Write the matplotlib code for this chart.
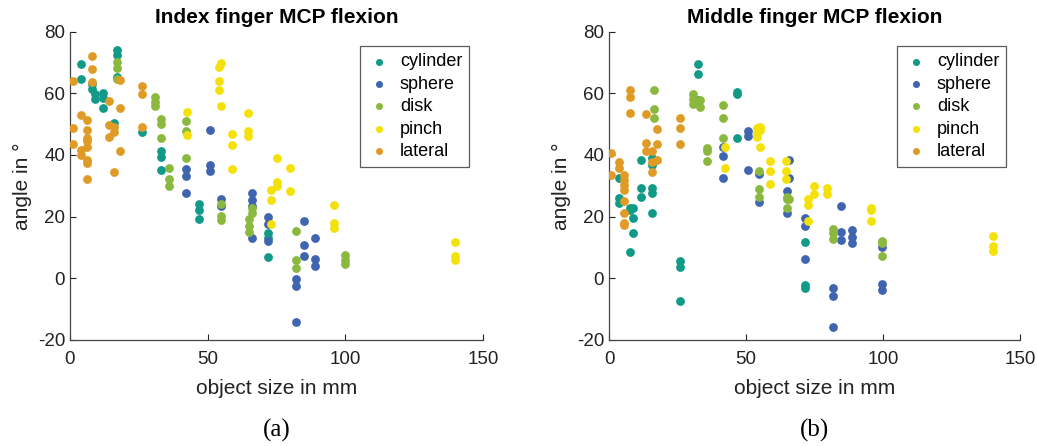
import matplotlib
matplotlib.use("Agg")
import matplotlib.pyplot as plt

plt.rcParams['font.family'] = ['Liberation Sans', 'DejaVu Sans']
plt.rcParams['axes.unicode_minus'] = False

grasps = ["cylinder", "sphere", "disk", "pinch", "lateral"]
colors = ["#129a88", "#4065b0", "#8bb83e", "#f5e10a", "#e09b27"]

# index finger (a): (object size, angle) per grasp
idx_cylinder_x = [4, 4, 8, 8, 9, 9, 12, 12, 12, 17, 17, 17, 16, 26, 33, 33, 33, 47, 47, 47, 72, 72, 72]
idx_cylinder_y = [69.4, 64.7, 63, 61.4, 59.8, 58.2, 60.1, 58.4, 55.2, 74, 72.5, 65.3, 50.3, 47.5, 41.3, 39.3, 35, 24.2, 22.2, 19.3, 14.7, 13, 6.9]
idx_sphere_x = [42, 42, 42, 51, 51, 51, 55, 55, 66, 66, 66, 66, 72, 72, 72, 85, 85, 85, 89, 89, 89, 82, 82, 82]
idx_sphere_y = [35.5, 33.3, 27.7, 48.1, 36.6, 34.7, 25.7, 23.3, 27.7, 25.3, 23.3, 13.2, 20, 17.6, 12.2, 18.7, 10.9, 7.4, 13.2, 6.4, 4.1, -0.3, -2.5, -14.2]
idx_disk_x = [17, 17, 17, 31, 31, 31, 33, 33, 33, 36, 36, 36, 42, 42, 42, 55, 55, 55, 66, 66, 65, 65, 65, 82, 82, 82, 100, 100, 100]
idx_disk_y = [70.3, 68.2, 64.7, 58.7, 57.3, 56, 51.6, 50, 45.4, 35.8, 32.2, 29.8, 50.9, 47.8, 39, 24, 20.3, 19, 22.9, 21.2, 19.3, 17, 15.1, 15.4, 5.9, 3.2, 7.5, 6, 4.6]
idx_pinch_x = [54, 55, 54, 54, 55, 42.6, 42.6, 59, 59, 59, 64.8, 64.8, 64.8, 75, 75, 75, 73, 73, 73, 80, 80, 96, 96, 96, 140, 140, 140]
idx_pinch_y = [68.6, 69.7, 64.1, 61.1, 56, 54, 46.4, 46.7, 43.4, 35.6, 53.7, 47.8, 46.2, 38.9, 31.3, 29.8, 28.8, 25.3, 17.5, 35.8, 28.3, 23.9, 17.9, 16.2, 11.8, 7.2, 5.9]
idx_lateral_x = [1, 1, 1, 4, 4, 4, 6, 6, 6, 6, 6, 6, 6, 6, 8, 8, 8, 14, 14, 14, 16, 16, 16, 18, 18, 18, 26, 26, 26]
idx_lateral_y = [64, 48.6, 43.5, 53, 41.6, 40, 51.3, 48.1, 45.6, 42.7, 38.4, 37.3, 32.2, 44.5, 72, 68, 63.8, 57.4, 49.7, 45.9, 49.2, 47.4, 34.4, 64.2, 55.3, 41.3, 62.3, 59.8, 49.2]

# middle finger (b)
mid_cylinder_x = [3.7, 3.7, 3.7, 7.7, 7.7, 8.6, 8.6, 8.6, 7.7, 11.6, 11.6, 11.6, 15.8, 15.8, 15.8, 15.8, 15.8, 25.8, 25.8, 25.8, 32.6, 32.6, 32.6, 46.6, 46.6, 46.6, 71.6, 71.6, 71.6]
mid_cylinder_y = [32.4, 25.9, 24.3, 22.7, 22.2, 22.7, 19.5, 14.8, 8.6, 38.4, 29.2, 26.5, 38.9, 36.7, 29.2, 27.6, 21.1, 5.7, 3.6, -7.4, 69.5, 66.2, 57.8, 60.5, 59.8, 45.4, 11.7, -2.2, -3.2]
mid_sphere_x = [41.7, 41.7, 41.7, 50.6, 50.6, 50.6, 54.7, 54.7, 65.8, 65.8, 64.8, 64.8, 71.6, 71.6, 71.6, 84.8, 84.8, 84.8, 88.8, 88.8, 88.8, 81.7, 81.7, 81.7, 99.7, 99.7, 99.7]
mid_sphere_y = [42.7, 39.7, 32.6, 47.9, 46, 35.1, 33.8, 24.7, 38.4, 32.6, 28.4, 21.3, 19.5, 17.1, 6.3, 23.6, 14.9, 12.4, 15.7, 13.5, 11.4, -3.2, -5.6, -15.9, 10.3, -2, -3.8]
mid_disk_x = [16.5, 16.5, 16.5, 30.8, 30.8, 30.8, 33.2, 33.2, 35.7, 35.7, 35.7, 41.7, 41.7, 41.7, 54.7, 54.7, 54.7, 64.8, 64.8, 65.8, 64.8, 81.7, 81.7, 81.7, 99.7, 99.7, 99.7]
mid_disk_y = [61, 54.8, 52, 59.8, 58, 56.5, 57.8, 55.7, 42.2, 41.4, 38.1, 56.2, 52.1, 45.4, 34.9, 28.9, 26.5, 26.5, 25.6, 25.6, 22.7, 16.1, 14.6, 12.6, 12.1, 11.4, 7.2]
mid_pinch_x = [42.5, 42.5, 53.9, 53.9, 53.9, 55.1, 55.1, 55.1, 58.8, 58.8, 58.8, 64.5, 64.5, 64.5, 74.7, 74.7, 72.8, 72.8, 72.8, 79.7, 79.7, 95.8, 95.8, 95.8, 140, 140, 140]
mid_pinch_y = [42.5, 35.9, 48.7, 47, 45.9, 49.2, 48.1, 42.6, 38.1, 34.9, 30.5, 38, 34.9, 32.2, 29.9, 27.2, 25.6, 23.7, 18.7, 29.2, 27.3, 22.9, 22.2, 18.7, 13.8, 10.6, 9]
mid_lateral_x = [0.6, 0.6, 3.7, 3.7, 5.6, 5.6, 5.6, 5.6, 5.6, 5.6, 5.6, 5.6, 7.7, 7.7, 7.7, 13.5, 13.5, 13.5, 15.8, 15.8, 15.8, 17.6, 17.6, 17.6, 25.8, 25.8, 25.8]
mid_lateral_y = [40.5, 33.5, 37.6, 35.7, 33.5, 31.8, 30.3, 28.6, 25.2, 21.3, 18, 17.3, 61.1, 58.9, 53.7, 53.3, 43.8, 41.4, 41.4, 37.8, 34.6, 48.3, 43.6, 38.4, 51.9, 48.7, 43.6]

index_data = [(idx_cylinder_x, idx_cylinder_y), (idx_sphere_x, idx_sphere_y), (idx_disk_x, idx_disk_y),
              (idx_pinch_x, idx_pinch_y), (idx_lateral_x, idx_lateral_y)]
middle_data = [(mid_cylinder_x, mid_cylinder_y), (mid_sphere_x, mid_sphere_y), (mid_disk_x, mid_disk_y),
               (mid_pinch_x, mid_pinch_y), (mid_lateral_x, mid_lateral_y)]

fig = plt.figure(figsize=(10.37, 4.46), dpi=100)
ax1 = fig.add_axes([0.0675, 0.2377, 0.3983, 0.6913])
ax2 = fig.add_axes([0.5873, 0.2377, 0.3963, 0.6913])


def draw(ax, data, title, tag):
    for (xs, ys), name, c in zip(data, grasps, colors):
        ax.scatter(xs, ys, s=40, color=c, label=name, linewidths=0, zorder=3)
    ax.set_xlim(0, 150)
    ax.set_ylim(-20, 80)
    ax.set_xticks([0, 50, 100, 150])
    ax.set_yticks([-20, 0, 20, 40, 60, 80])
    ax.spines['top'].set_visible(False)
    ax.spines['right'].set_visible(False)
    for sp in ax.spines.values():
        sp.set_color("#444444")
        sp.set_linewidth(0.9)
    ax.tick_params(direction='in', length=4, labelsize=13.5, colors="#222222", width=0.8)
    ax.tick_params(axis='x', pad=8)
    ax.set_title(title, fontsize=15, fontweight='bold', pad=6)
    ax.set_xlabel("object size in mm", fontsize=15, color="#222222", labelpad=8)
    ax.set_ylabel("angle in °", fontsize=15, color="#222222", labelpad=4)
    leg = ax.legend(loc='upper right', bbox_to_anchor=(0.967, 0.953), borderaxespad=0, fontsize=13,
                    fancybox=False, handletextpad=0.5, borderpad=0.4, labelspacing=0.3,
                    handlelength=1.3, scatterpoints=1, markerscale=0.8)
    leg.get_frame().set_edgecolor("#333333")
    leg.get_frame().set_linewidth(0.9)
    ax.text(0.5, -0.255, tag, transform=ax.transAxes, ha='center', va='top',
            fontsize=18, family=['Liberation Serif', 'DejaVu Serif'])


draw(ax1, index_data, "Index finger MCP flexion", "(a)")
draw(ax2, middle_data, "Middle finger MCP flexion", "(b)")

fig.savefig("out.png", dpi=100)
